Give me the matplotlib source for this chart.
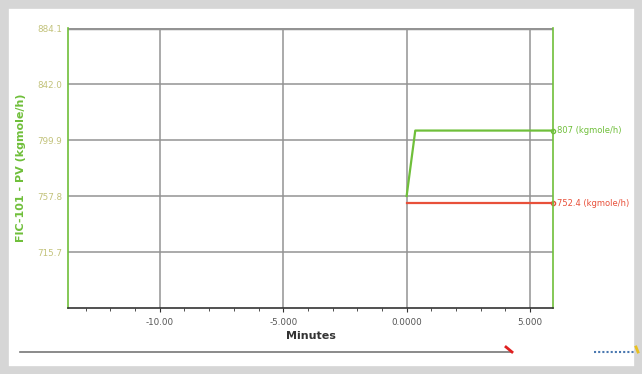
import matplotlib.pyplot as plt
from matplotlib.patches import Rectangle
from matplotlib.lines import Line2D

t_pv = [0.0, 0.35, 5.93]
pv = [757.8, 807.0, 807.0]
t_sp = [0.0, 5.93]
sp = [752.4, 752.4]
yticks = [715.7, 757.8, 799.9, 842.0, 884.1]
ytick_labels = ["715.7", "757.8", "799.9", "842.0", "884.1"]
xticks = [-10, -5, 0, 5]
xtick_labels = ["-10.00", "-5.000", "0.0000", "5.000"]

green = "#6fbf3a"
red = "#e8503a"

fig = plt.figure(figsize=(6.42, 3.74), dpi=100)
# light gray frame round the window
fig.patches.append(Rectangle((0, 0), 1, 1, transform=fig.transFigure,
                             facecolor="none", edgecolor="#d6d6d6", lw=12))

ax = fig.add_axes([68/642, 1-308/374, 485/642, 280/374])
ax.set_xlim(-13.72, 5.93)
ax.set_ylim(673.6, 884.1)

ax.set_yticks(yticks)
ax.set_yticklabels(ytick_labels, fontsize=6.3, color="#c2c27a")
ax.set_xticks(xticks)
ax.set_xticklabels(xtick_labels, fontsize=6.3, color="#555555")
ax.tick_params(axis="y", length=0, pad=4)
ax.tick_params(axis="x", length=3, color="#333333", pad=4)
ax.minorticks_on()
ax.tick_params(axis="x", which="minor", length=2, color="#333333")
ax.tick_params(axis="y", which="minor", length=0)

ax.grid(True, which="major", color="#939393", lw=1.1)
ax.grid(False, which="minor")
ax.axhline(884.1, color="#939393", lw=2.5)

for s in ["left", "right"]:
    ax.spines[s].set_color(green)
    ax.spines[s].set_linewidth(1.2)
ax.spines["top"].set_visible(False)
ax.spines["bottom"].set_color("#333333")
ax.spines["bottom"].set_linestyle((0, (3, 1)))
ax.spines["bottom"].set_linewidth(1.2)

ax.plot(t_pv, pv, color=green, lw=1.6, clip_on=False)
ax.plot(t_sp, sp, color=red, lw=1.6, clip_on=False)
ax.plot(t_pv[-1], pv[-1], "o", ms=3, mfc="none", mec=green, clip_on=False)
ax.plot(t_sp[-1], sp[-1], "o", ms=3, mfc="none", mec=red, clip_on=False)
ax.annotate(f"{pv[-1]:g} (kgmole/h)", (t_pv[-1], pv[-1]), xytext=(3, 0),
            textcoords="offset points", va="center", fontsize=6, color=green,
            annotation_clip=False)
ax.annotate(f"{sp[-1]:g} (kgmole/h)", (t_sp[-1], sp[-1]), xytext=(3, 0),
            textcoords="offset points", va="center", fontsize=6, color=red,
            annotation_clip=False)

ax.set_ylabel("FIC-101 - PV (kgmole/h)", fontsize=8, fontweight="bold",
              color=green, labelpad=8)
ax.set_xlabel("Minutes", fontsize=8, fontweight="bold", color="#333333",
              labelpad=3)

# scroll bar bits under the plot
fig.add_artist(Line2D([20/642, 512/642], [1-352/374, 1-352/374],
                      color="#777777", lw=1.2))
fig.add_artist(Line2D([506/642, 512/642], [1-347/374, 1-352/374],
                      color="#e02020", lw=2))
fig.add_artist(Line2D([594/642, 634/642], [1-352/374, 1-352/374],
                      color="#4a78b0", lw=1.5, ls=(0, (1, 1))))
fig.add_artist(Line2D([636/642, 638/642], [1-347/374, 1-352/374],
                      color="#e8c020", lw=2))

fig.savefig("out.png", dpi=100)
